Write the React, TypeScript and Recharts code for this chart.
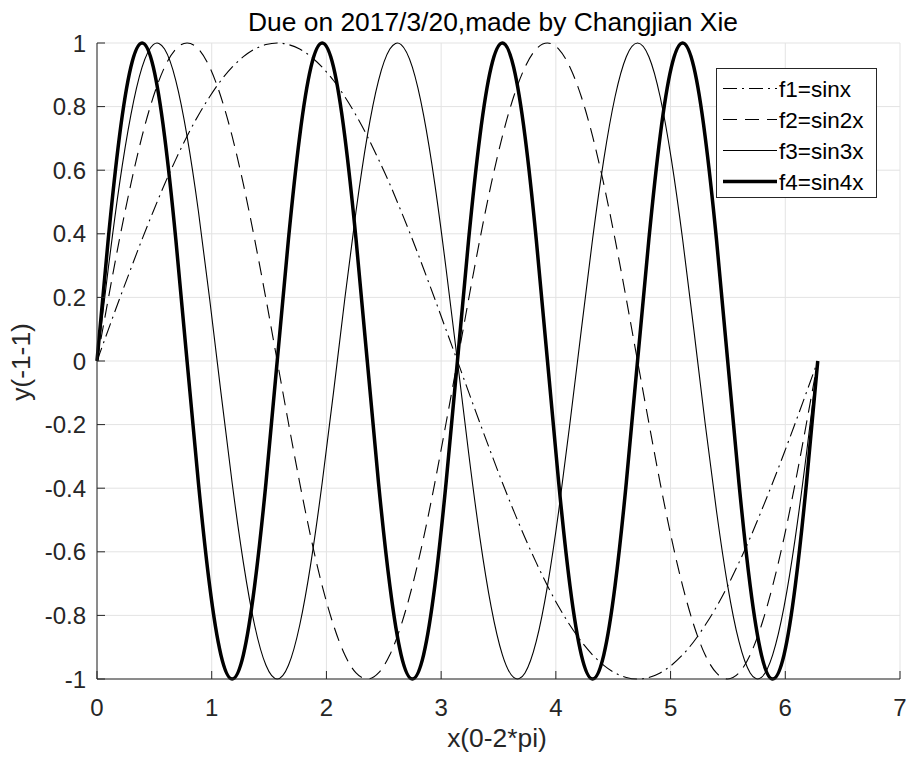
import { LineChart, Line, XAxis, YAxis, CartesianGrid, Legend } from 'recharts'

// x = 0 .. 2*pi, sampled at pi/32
const X = [
  0, 0.098, 0.196, 0.295, 0.393, 0.491, 0.589, 0.687,
  0.785, 0.884, 0.982, 1.08, 1.178, 1.276, 1.374, 1.473,
  1.571, 1.669, 1.767, 1.865, 1.963, 2.062, 2.16, 2.258,
  2.356, 2.454, 2.553, 2.651, 2.749, 2.847, 2.945, 3.043,
  3.142, 3.24, 3.338, 3.436, 3.534, 3.632, 3.731, 3.829,
  3.927, 4.025, 4.123, 4.222, 4.32, 4.418, 4.516, 4.614,
  4.712, 4.811, 4.909, 5.007, 5.105, 5.203, 5.301, 5.4,
  5.498, 5.596, 5.694, 5.792, 5.89, 5.989, 6.087, 6.185,
  6.283,
]

const F1 = [
  0, 0.098, 0.195, 0.29, 0.383, 0.471, 0.556, 0.634,
  0.707, 0.773, 0.831, 0.882, 0.924, 0.957, 0.981, 0.995,
  1, 0.995, 0.981, 0.957, 0.924, 0.882, 0.831, 0.773,
  0.707, 0.634, 0.556, 0.471, 0.383, 0.29, 0.195, 0.098,
  0, -0.098, -0.195, -0.29, -0.383, -0.471, -0.556, -0.634,
  -0.707, -0.773, -0.831, -0.882, -0.924, -0.957, -0.981, -0.995,
  -1, -0.995, -0.981, -0.957, -0.924, -0.882, -0.831, -0.773,
  -0.707, -0.634, -0.556, -0.471, -0.383, -0.29, -0.195, -0.098,
  0,
]

const F2 = [
  0, 0.195, 0.383, 0.556, 0.707, 0.831, 0.924, 0.981,
  1, 0.981, 0.924, 0.831, 0.707, 0.556, 0.383, 0.195,
  0, -0.195, -0.383, -0.556, -0.707, -0.831, -0.924, -0.981,
  -1, -0.981, -0.924, -0.831, -0.707, -0.556, -0.383, -0.195,
  0, 0.195, 0.383, 0.556, 0.707, 0.831, 0.924, 0.981,
  1, 0.981, 0.924, 0.831, 0.707, 0.556, 0.383, 0.195,
  0, -0.195, -0.383, -0.556, -0.707, -0.831, -0.924, -0.981,
  -1, -0.981, -0.924, -0.831, -0.707, -0.556, -0.383, -0.195,
  0,
]

const F3 = [
  0, 0.29, 0.556, 0.773, 0.924, 0.995, 0.981, 0.882,
  0.707, 0.471, 0.195, -0.098, -0.383, -0.634, -0.831, -0.957,
  -1, -0.957, -0.831, -0.634, -0.383, -0.098, 0.195, 0.471,
  0.707, 0.882, 0.981, 0.995, 0.924, 0.773, 0.556, 0.29,
  0, -0.29, -0.556, -0.773, -0.924, -0.995, -0.981, -0.882,
  -0.707, -0.471, -0.195, 0.098, 0.383, 0.634, 0.831, 0.957,
  1, 0.957, 0.831, 0.634, 0.383, 0.098, -0.195, -0.471,
  -0.707, -0.882, -0.981, -0.995, -0.924, -0.773, -0.556, -0.29,
  0,
]

const F4 = [
  0, 0.383, 0.707, 0.924, 1, 0.924, 0.707, 0.383,
  0, -0.383, -0.707, -0.924, -1, -0.924, -0.707, -0.383,
  0, 0.383, 0.707, 0.924, 1, 0.924, 0.707, 0.383,
  0, -0.383, -0.707, -0.924, -1, -0.924, -0.707, -0.383,
  0, 0.383, 0.707, 0.924, 1, 0.924, 0.707, 0.383,
  0, -0.383, -0.707, -0.924, -1, -0.924, -0.707, -0.383,
  0, 0.383, 0.707, 0.924, 1, 0.924, 0.707, 0.383,
  0, -0.383, -0.707, -0.924, -1, -0.924, -0.707, -0.383,
  0,
]

const X_TICKS = [0, 1, 2, 3, 4, 5, 6, 7]
const Y_TICKS = [-1, -0.8, -0.6, -0.4, -0.2, 0, 0.2, 0.4, 0.6, 0.8, 1]

const SERIES = [
  { key: 'f1', name: 'f1=sinx', width: 1.1, dash: '14 5 2 5' },
  { key: 'f2', name: 'f2=sin2x', width: 1.1, dash: '14 8' },
  { key: 'f3', name: 'f3=sin3x', width: 1.1, dash: undefined },
  { key: 'f4', name: 'f4=sin4x', width: 3.5, dash: undefined },
]

const data = X.map((x, i) => ({ x, f1: F1[i], f2: F2[i], f3: F3[i], f4: F4[i] }))

const AXIS = '#262626'
const FONT = '"Liberation Sans", Arial, sans-serif'

const LegendBox = () => (
  <svg width={161} height={130} style={{ display: 'block', fontFamily: FONT }}>
    <rect x={0.5} y={0.5} width={160} height={129} fill="#fff" stroke={AXIS} />
    {SERIES.map((s, i) => {
      const y = 20.5 + i * 31
      return (
        <g key={s.key}>
          <line x1={7} x2={61} y1={y} y2={y} stroke="#000" strokeWidth={s.width} strokeDasharray={s.dash} />
          <text x={63} y={y} dy="0.36em" fontSize={22.5} fill="#000">{s.name}</text>
        </g>
      )
    })}
  </svg>
)

export default function App() {
  return (
    <div style={{ position: 'absolute', left: 0, top: 0, width: 906, height: 758, background: '#fff', fontFamily: FONT }}>
      <LineChart width={906} height={758} data={data} margin={{ top: 43, right: 6, bottom: 49, left: 0 }}>
        <CartesianGrid xAxisId="b" yAxisId="l" stroke="#e3e3e3" strokeWidth={1} />
        <XAxis
          xAxisId="b"
          dataKey="x"
          type="number"
          domain={[0, 7]}
          ticks={X_TICKS}
          interval={0}
          height={30}
          stroke={AXIS}
          tickSize={-8}
          tickMargin={28}
          tick={{ fill: AXIS, fontSize: 24 }}
        />
        <XAxis
          xAxisId="t"
          dataKey="x"
          type="number"
          orientation="top"
          domain={[0, 7]}
          ticks={X_TICKS}
          interval={0}
          height={0}
          stroke={AXIS}
          tickSize={-8}
          tickFormatter={() => ''}
        />
        <YAxis
          yAxisId="l"
          type="number"
          domain={[-1, 1]}
          ticks={Y_TICKS}
          interval={0}
          width={97}
          stroke={AXIS}
          tickSize={-8}
          tickMargin={19}
          tick={{ fill: AXIS, fontSize: 24 }}
        />
        <YAxis
          yAxisId="r"
          type="number"
          orientation="right"
          domain={[-1, 1]}
          ticks={Y_TICKS}
          interval={0}
          width={0}
          stroke={AXIS}
          tickSize={-8}
          tickFormatter={() => ''}
        />
        <Legend
          layout="horizontal"
          verticalAlign="middle"
          content={<LegendBox />}
          wrapperStyle={{ left: 716, top: 68, width: 161, height: 130, margin: 0, padding: 0 }}
        />
        {SERIES.map((s) => (
          <Line
            key={s.key}
            xAxisId="b"
            yAxisId="l"
            type="natural"
            dataKey={s.key}
            name={s.name}
            stroke="#000"
            strokeWidth={s.width}
            strokeDasharray={s.dash}
            dot={false}
            activeDot={false}
            isAnimationActive={false}
          />
        ))}
      </LineChart>
      <svg
        width={906}
        height={758}
        style={{ position: 'absolute', left: 0, top: 0, pointerEvents: 'none', fontFamily: FONT }}
      >
        <text x={493} y={31} textAnchor="middle" fontSize={26.4} fill="#000">
          Due on 2017/3/20,made by Changjian Xie
        </text>
        <text x={497} y={747} textAnchor="middle" fontSize={26.4} fill={AXIS}>
          x(0-2*pi)
        </text>
        <text x={30} y={362} textAnchor="middle" fontSize={26.4} fill={AXIS} transform="rotate(-90 30 362)">
          y(-1-1)
        </text>
      </svg>
    </div>
  )
}
